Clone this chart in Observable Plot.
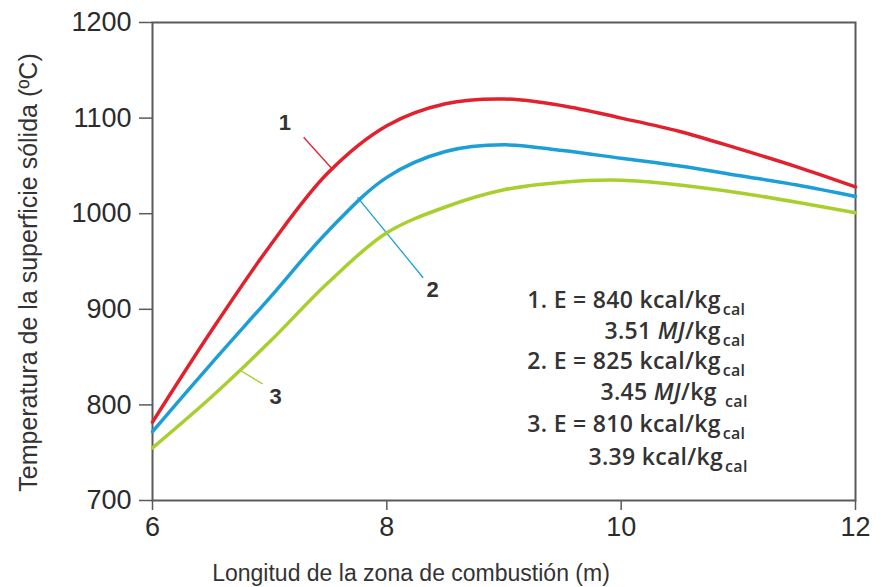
<!DOCTYPE html>
<html><head><meta charset="utf-8">
<script src="https://cdn.jsdelivr.net/npm/d3@7"></script>
<script src="https://cdn.jsdelivr.net/npm/@observablehq/plot@0.6"></script>
<style>body{margin:0;background:#fff}</style>
</head><body><div id="chart"></div>
<script>
// Data
const xs = [6, 6.5, 7, 7.5, 8, 8.5, 9, 9.5, 10, 10.5, 11, 11.5, 12];
const curve1 = [782, 877, 966, 1043, 1092, 1115, 1120, 1113, 1100, 1086, 1068, 1049, 1028];
const curve2 = [772, 843, 912, 982, 1038, 1065, 1072, 1066, 1058, 1050, 1040, 1030, 1018];
const curve3 = [755, 808, 866, 928, 980, 1007, 1025, 1033, 1035, 1030, 1022, 1012, 1001];
const seriesNames = ["1", "2", "3"];
const seriesColors = ["#e2212e", "#1c9fd6", "#a8cf2e"];
const xTicks = [6, 8, 10, 12];
const yTicks = [700, 800, 900, 1000, 1100, 1200];

// curve labels and leader lines
const labelX = [7.13, 8.39, 7.05];
const labelY = [1095, 920, 808];
const leadX1 = [7.29, 8.31, 6.94];
const leadY1 = [1080, 933, 822];
const leadX2 = [7.54, 7.75, 6.75];
const leadY2 = [1046, 1017, 836];

// annotation block
const annotMain = ["1. E = 840 kcal/kg", "3.51 |MJ|/kg", "2. E = 825 kcal/kg", "3.45 |MJ|/kg ", "3. E = 810 kcal/kg", "3.39 kcal/kg"];
const annotSub = ["cal", "cal", "cal", "cal", "cal", "cal"];
const annotX = [11.06, 11.06, 11.06, 11.08, 11.06, 11.08];
const annotY = [909, 877, 845, 813, 779, 745];

const xLabel = "Longitud de la zona de combustión (m)";
const yLabel = "Temperatura de la superficie sólida (ºC)";

const allCurves = [curve1, curve2, curve3];
const lineData = [];
allCurves.forEach((c, i) => c.forEach((v, j) => lineData.push({x: xs[j], y: v, s: seriesNames[i]})));
const labels = seriesNames.map((n, i) => ({n, x: labelX[i], y: labelY[i]}));
const leaders = seriesNames.map((n, i) => ({n, x1: leadX1[i], y1: leadY1[i], x2: leadX2[i], y2: leadY2[i]}));
const annots = annotMain.map((t, i) => ({t: t + "#" + annotSub[i], x: annotX[i], y: annotY[i]}));

const plot = Plot.plot({
  width: 881, height: 587,
  marginLeft: 152, marginRight: 26, marginTop: 22, marginBottom: 87,
  style: {fontFamily: "'Liberation Sans', Arial, sans-serif", fontSize: "27px", color: "#2b2b2b", background: "#fff"},
  x: {domain: [6, 12]},
  y: {domain: [700, 1200]},
  color: {domain: seriesNames, range: seriesColors},
  marks: [
    Plot.frame({stroke: "#5a5a5a", strokeWidth: 2}),
    Plot.axisY({ticks: yTicks, tickSize: 13, tickPadding: 8, tickFormat: "d", label: null, stroke: "#5a5a5a", strokeWidth: 1.5}),
    Plot.axisX({ticks: xTicks, tickSize: 10, tickPadding: 6, tickFormat: "d", label: null, stroke: "#5a5a5a", strokeWidth: 1.5}),
    Plot.link(leaders, {x1: "x1", y1: "y1", x2: "x2", y2: "y2", stroke: "n", strokeWidth: 1.3}),
    Plot.line(lineData, {x: "x", y: "y", z: "s", stroke: "s", strokeWidth: 3.5, curve: "catmull-rom"}),
    Plot.text(labels, {x: "x", y: "y", text: "n", fontSize: 22, fontWeight: "bold", fill: "#333"}),
    Plot.text(annots, {x: "x", y: "y", text: "t", textAnchor: "end", fontSize: 23, fontWeight: 600, fill: "#333", fontFamily: "'Open Sans', sans-serif", className: "annot"}),
    Plot.text([yLabel], {frameAnchor: "left", textAnchor: "middle", dx: -124, dy: 11, rotate: -90, fontSize: 25, fill: "#333"}),
    Plot.text([xLabel], {frameAnchor: "bottom", textAnchor: "middle", dx: -93, dy: 80, fontSize: 23, fill: "#333"})
  ]
});

// build subscripts / italics inside the annotation texts
plot.querySelectorAll(".annot text").forEach(el => {
  const [main, sub] = el.textContent.split("#");
  el.textContent = "";
  el.setAttribute("letter-spacing", "0.3");
  main.split("|").forEach((part, k) => {
    if (!part) return;
    const ts = document.createElementNS("http://www.w3.org/2000/svg", "tspan");
    ts.textContent = part;
    if (k === 1) ts.setAttribute("font-style", "italic");
    el.appendChild(ts);
  });
  const s = document.createElementNS("http://www.w3.org/2000/svg", "tspan");
  s.textContent = sub;
  s.setAttribute("font-size", "16");
  s.setAttribute("dy", "7");
  s.setAttribute("dx", "2");
  el.appendChild(s);
});

document.getElementById("chart").appendChild(plot);
</script>
</body></html>
